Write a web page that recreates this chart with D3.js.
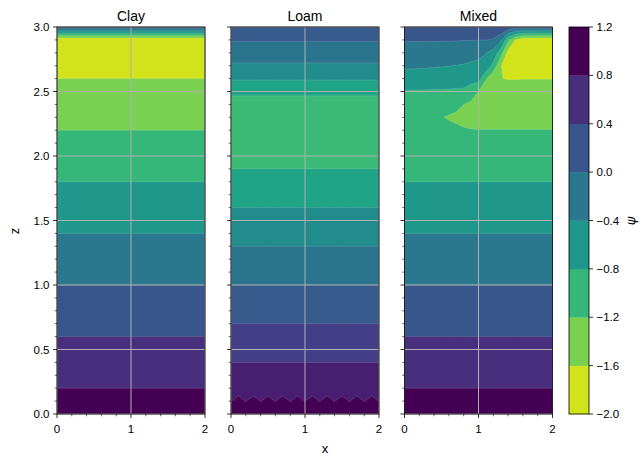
<!DOCTYPE html>
<html><head><meta charset="utf-8">
<script src="https://cdn.jsdelivr.net/npm/d3@7"></script>
<style>
body{margin:0;background:#fff}
text{font-family:"Liberation Sans",Arial,"DejaVu Sans",sans-serif;fill:#000}
</style>
</head><body>
<svg id="c" width="641" height="463"></svg>
<script>
// ---------------- data ----------------
const panelNames = ["Clay", "Loam", "Mixed"];
const coarseLevels = [-2.0, -1.6, -1.2, -0.8, -0.4, 0.0, 0.4, 0.8, 1.2];
const loamLevels = [-1.2, -0.9, -0.6, -0.3, 0.0, 0.3, 0.6, 0.9, 1.2];
const colorbarTicks = [-2.0, -1.6, -1.2, -0.8, -0.4, 0.0, 0.4, 0.8, 1.2];
const zMajorTicks = [0, 0.5, 1.0, 1.5, 2.0, 2.5, 3.0];
const xMajorTicks = [0, 1, 2];
const colorRange = [-2.0, 1.0]; // data range used for the colour norm

// Clay: psi depends on z only
const clayX = [0, 2];
const clayZ = [0, 2.9, 3.0];
const clayPsi = [1.0, -1.9, 0.2];

// Loam: psi profile along z, plus the slightly uneven row at z = 0.1
const loamX = [0, 0.1, 0.2, 0.3, 0.4, 0.5, 0.6, 0.7, 0.8, 0.9, 1.0, 1.1, 1.2, 1.3, 1.4, 1.5, 1.6, 1.7, 1.8, 1.9, 2.0];
const loamZ = [0, 0.1, 0.2, 1.9, 2.0, 2.1, 2.2, 2.3, 2.4, 2.5, 2.6, 2.7, 2.8, 2.9, 3.0];
const loamPsi = [1.0, 0.9, 0.8, -0.9, -1.0, -1.07, -1.1, -1.09, -1.06, -0.82, -0.57, -0.34, -0.15, 0.02, 0.15];
const loamRowAtZ01 = [0.895, 0.967, 0.895, 0.967, 0.895, 0.967, 0.895, 0.967, 0.895, 0.967, 0.895,
                      0.967, 0.895, 0.967, 0.895, 0.967, 0.895, 0.967, 0.895, 0.967, 0.895];

// Mixed: one psi column (over mixedZ) for each x in mixedX
const mixedX = [0, 0.25, 0.5, 0.6, 0.7, 0.8, 0.9, 1.0, 1.1, 1.2, 1.3, 1.4, 1.5, 1.6, 1.8, 2.0];
const mixedZ = [0, 2.0, 2.1, 2.2, 2.3, 2.4, 2.5, 2.6, 2.7, 2.8, 2.9, 3.0];
const mixedCols = [
  [1.0, -1.0, -1.07, -1.1,   -1.09,  -1.06,  -0.82,  -0.57,  -0.34, -0.15, 0.02,  0.15],
  [1.0, -1.0, -1.07, -1.1,   -1.12,  -1.07,  -0.83,  -0.58,  -0.35, -0.15, 0.02,  0.15],
  [1.0, -1.0, -1.08, -1.12,  -1.19,  -1.09,  -0.84,  -0.60,  -0.38, -0.16, 0.02,  0.15],
  [1.0, -1.0, -1.09, -1.14,  -1.218, -1.118, -0.845, -0.61,  -0.39, -0.17, 0.02,  0.15],
  [1.0, -1.0, -1.09, -1.16,  -1.24,  -1.145, -0.85,  -0.62,  -0.41, -0.18, 0.015, 0.15],
  [1.0, -1.0, -1.1,  -1.18,  -1.271, -1.198, -0.86,  -0.63,  -0.43, -0.19, 0.01,  0.15],
  [1.0, -1.0, -1.1,  -1.19,  -1.29,  -1.27,  -1.0,   -0.66,  -0.48, -0.22, 0.01,  0.15],
  [1.0, -1.0, -1.1,  -1.195, -1.3,   -1.38,  -1.21,  -0.62,  -0.52, -0.27, 0.005, 0.15],
  [1.0, -1.0, -1.1,  -1.195, -1.3,   -1.4,   -1.45,  -1.17,  -0.5,  -0.39, 0.004, 0.15],
  [1.0, -1.0, -1.1,  -1.195, -1.3,   -1.4,   -1.5,   -1.56,  -0.9,  -0.55, -0.03, 0.3],
  [1.0, -1.0, -1.1,  -1.195, -1.3,   -1.4,   -1.5,   -1.595, -1.59, -1.0,  -0.3,  0.38],
  [1.0, -1.0, -1.1,  -1.195, -1.3,   -1.4,   -1.5,   -1.61,  -1.7,  -1.75, -1.1,  0.3],
  [1.0, -1.0, -1.1,  -1.195, -1.3,   -1.4,   -1.5,   -1.61,  -1.7,  -1.8,  -1.62, 0.2],
  [1.0, -1.0, -1.1,  -1.195, -1.3,   -1.4,   -1.5,   -1.605, -1.7,  -1.8,  -1.85, 0.2],
  [1.0, -1.0, -1.1,  -1.195, -1.3,   -1.4,   -1.5,   -1.605, -1.7,  -1.8,  -1.9,  0.2],
  [1.0, -1.0, -1.1,  -1.195, -1.3,   -1.4,   -1.5,   -1.605, -1.7,  -1.8,  -1.9,  0.2]
];

// ---------------- grids ----------------
const clayGrid = clayZ.map((z, j) => clayX.map(() => clayPsi[j]));
const loamGrid = loamZ.map((z, j) => loamX.map((x, k) => (j === 1 ? loamRowAtZ01[k] : loamPsi[j])));
const mixedGrid = mixedZ.map((z, j) => mixedX.map((x, k) => mixedCols[k][j]));

const panels = [
  {name: panelNames[0], xs: clayX, zs: clayZ, grid: clayGrid, levels: coarseLevels},
  {name: panelNames[1], xs: loamX, zs: loamZ, grid: loamGrid, levels: loamLevels},
  {name: panelNames[2], xs: mixedX, zs: mixedZ, grid: mixedGrid, levels: coarseLevels}
];

// ---------------- layout ----------------
const svg = d3.select("#c");
const panelLeft = [57, 231, 404.5];
const panelW = 148;
const yScale = d3.scaleLinear().domain([0, 3]).range([414, 27]);
const norm = d3.scaleLinear().domain(colorRange).range([1, 0]); // reversed viridis
const bandColor = (lo, hi) => d3.interpolateViridis(Math.max(0, Math.min(1, norm((lo + hi) / 2))));
const fmt1 = d3.format(".1f");
const tickFont = 11.5;

panels.forEach((p, i) => {
  const x = d3.scaleLinear().domain([0, 2]).range([panelLeft[i], panelLeft[i] + panelW]);
  const clipId = "clip" + i;
  svg.append("clipPath").attr("id", clipId).append("rect")
    .attr("x", x(0)).attr("y", yScale(3)).attr("width", x(2) - x(0)).attr("height", yScale(0) - yScale(3));

  const nx = p.xs.length, nz = p.zs.length;
  const values = new Array(nx * nz);
  for (let j = 0; j < nz; j++) for (let k = 0; k < nx; k++) values[j * nx + k] = p.grid[j][k];
  const xi = d3.scaleLinear().domain(p.xs.map((_, k) => k + 0.5)).range(p.xs).clamp(true);
  const zi = d3.scaleLinear().domain(p.zs.map((_, j) => j + 0.5)).range(p.zs).clamp(true);
  const path = d3.geoPath(d3.geoTransform({
    point(px, py) { this.stream.point(x(xi(px)), yScale(zi(py))); }
  }));
  const cs = d3.contours().size([nx, nz]).thresholds(p.levels.slice(0, -1))(values);

  const g = svg.append("g").attr("clip-path", `url(#${clipId})`);
  g.selectAll("path").data(cs).join("path")
    .attr("d", path)
    .attr("fill", d => { const k = p.levels.indexOf(d.value); return bandColor(p.levels[k], p.levels[k + 1]); })
    .attr("stroke", "rgba(255,255,255,0.28)")
    .attr("stroke-width", 0.5);

  // grid
  const grid = svg.append("g").attr("stroke", "#b0b0b0").attr("stroke-width", 1);
  xMajorTicks.forEach(t => grid.append("line").attr("x1", x(t)).attr("x2", x(t)).attr("y1", yScale(0)).attr("y2", yScale(3)));
  zMajorTicks.forEach(t => grid.append("line").attr("x1", x(0)).attr("x2", x(2)).attr("y1", yScale(t)).attr("y2", yScale(t)));

  // spines
  svg.append("rect").attr("x", x(0)).attr("y", yScale(3)).attr("width", x(2) - x(0)).attr("height", yScale(0) - yScale(3))
    .attr("fill", "none").attr("stroke", "#000").attr("stroke-width", 0.8);

  // ticks
  const tk = svg.append("g").attr("stroke", "#000").attr("stroke-width", 0.8);
  zMajorTicks.forEach(t => tk.append("line").attr("x1", x(0)).attr("x2", x(0) - 4).attr("y1", yScale(t)).attr("y2", yScale(t)));
  d3.range(0, 31).filter(v => v % 5 !== 0).forEach(v => {
    const t = v / 10;
    tk.append("line").attr("x1", x(0)).attr("x2", x(0) - 2.3).attr("y1", yScale(t)).attr("y2", yScale(t)).attr("stroke-width", 0.6);
  });
  xMajorTicks.forEach(t => tk.append("line").attr("x1", x(t)).attr("x2", x(t)).attr("y1", yScale(0)).attr("y2", yScale(0) + 4));
  d3.range(0, 11).filter(v => v % 5 !== 0).forEach(v => {
    const t = v / 5;
    tk.append("line").attr("x1", x(t)).attr("x2", x(t)).attr("y1", yScale(0)).attr("y2", yScale(0) + 2.3).attr("stroke-width", 0.6);
  });

  xMajorTicks.forEach(t => svg.append("text").attr("x", x(t)).attr("y", 433)
    .attr("text-anchor", "middle").attr("font-size", tickFont).text(d3.format("d")(t)));
  if (i === 0) {
    zMajorTicks.forEach(t => svg.append("text").attr("x", x(0) - 7.5).attr("y", yScale(t))
      .attr("text-anchor", "end").attr("dominant-baseline", "central").attr("font-size", tickFont).text(fmt1(t)));
  }
  svg.append("text").attr("x", (x(0) + x(2)) / 2).attr("y", 20.5).attr("text-anchor", "middle")
    .attr("font-size", 14).text(p.name);
});

// axis labels
svg.append("text").attr("transform", "translate(18.5,231) rotate(-90)").attr("text-anchor", "middle")
  .attr("font-size", 13).text("z");
svg.append("text").attr("x", 325).attr("y", 453).attr("text-anchor", "middle").attr("font-size", 13).text("x");

// colorbar
const cbX = 569, cbW = 20;
const cbScale = d3.scaleLinear().domain([-2.0, 1.2]).range([414, 27]);
const cb = svg.append("g");
d3.pairs(coarseLevels).forEach(([lo, hi]) => {
  cb.append("rect").attr("x", cbX).attr("y", cbScale(hi)).attr("width", cbW)
    .attr("height", cbScale(lo) - cbScale(hi) + 0.3).attr("fill", bandColor(lo, hi));
});
cb.append("rect").attr("x", cbX).attr("y", cbScale(1.2)).attr("width", cbW).attr("height", cbScale(-2.0) - cbScale(1.2))
  .attr("fill", "none").attr("stroke", "#000").attr("stroke-width", 0.8);
colorbarTicks.forEach(t => {
  cb.append("line").attr("x1", cbX + cbW).attr("x2", cbX + cbW + 4).attr("y1", cbScale(t)).attr("y2", cbScale(t))
    .attr("stroke", "#000").attr("stroke-width", 0.8);
  cb.append("text").attr("x", cbX + cbW + 7.5).attr("y", cbScale(t)).attr("dominant-baseline", "central")
    .attr("font-size", tickFont).text(fmt1(t));
});
svg.append("text").attr("transform", "translate(635,221) rotate(-90)").attr("text-anchor", "middle")
  .attr("font-size", 13).attr("font-style", "italic").style("font-family", "'DejaVu Sans'").text("ψ");
</script>
</body></html>
